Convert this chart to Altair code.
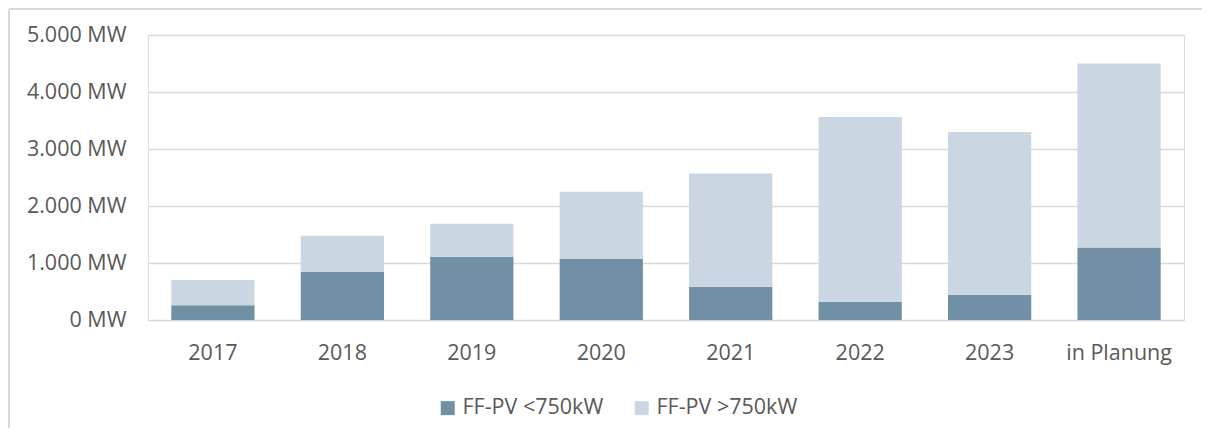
import altair as alt
import pandas as pd

categories = ["2017", "2018", "2019", "2020", "2021", "2022", "2023", "in Planung"]
series_names = ["FF-PV <750kW", "FF-PV >750kW"]
small_mw = [260, 845, 1110, 1070, 585, 320, 445, 1270]
large_mw = [440, 635, 580, 1180, 1985, 3240, 2855, 3230]
y_ticks = [0, 1000, 2000, 3000, 4000, 5000]
colors = ["#7190A6", "#CAD6E2"]

rows = []
for i, c in enumerate(categories):
    rows.append({"Jahr": c, "Serie": series_names[0], "MW": small_mw[i], "ord": 0})
    rows.append({"Jahr": c, "Serie": series_names[1], "MW": large_mw[i], "ord": 1})
df = pd.DataFrame(rows)

FONT = "Open Sans"
TXT = "#595959"
GRID = "#D9D9D9"

bars = alt.Chart(df).mark_bar().encode(
    x=alt.X("Jahr:N", sort=categories,
            scale=alt.Scale(paddingInner=0.357, paddingOuter=0.18),
            axis=alt.Axis(title=None, labelAngle=0, domain=False, ticks=False,
                          labelPadding=22, labelFont=FONT, labelFontSize=21.5,
                          labelColor=TXT, grid=False)),
    y=alt.Y("MW:Q", stack="zero",
            scale=alt.Scale(domain=[0, 5000], nice=False),
            axis=alt.Axis(title=None, values=y_ticks, domain=False, ticks=False,
                          labelPadding=22, labelFont=FONT, labelFontSize=21.5,
                          labelColor=TXT, grid=True, gridColor=GRID,
                          gridWidth=1.5,
                          labelExpr="replace(format(datum.value, ',d'), ',', '.') + ' MW'")),
    color=alt.Color("Serie:N", sort=series_names,
                    scale=alt.Scale(domain=series_names, range=colors),
                    legend=alt.Legend(title=None, orient="none", direction="horizontal",
                                      legendX=289, legendY=362,
                                      symbolType="square", symbolSize=196,
                                      symbolStrokeWidth=0, labelFont=FONT,
                                      labelFontSize=21.5, labelColor=TXT,
                                      labelLimit=300,
                                      labelOffset=4, columnPadding=27)),
    order=alt.Order("ord:Q", sort="ascending"),
)

border_top = alt.Chart(df).mark_rule(color=GRID, strokeWidth=1.5).encode(
    x=alt.value(-139), x2=alt.value(1054), y=alt.value(-26)
)
border_left = alt.Chart(df).mark_rule(color=GRID, strokeWidth=1.5).encode(
    x=alt.value(-139), y=alt.value(-26), y2=alt.value(400)
)

chart = alt.layer(bars, border_top, border_left).properties(
    width=1036, height=285,
    autosize=alt.AutoSizeParams(type="none"),
    padding={"left": 140, "top": 27, "right": 18, "bottom": 108},
).configure_view(stroke=None).configure(background="white")

chart.save("out.html", embed_options={"renderer": "svg", "actions": False})
